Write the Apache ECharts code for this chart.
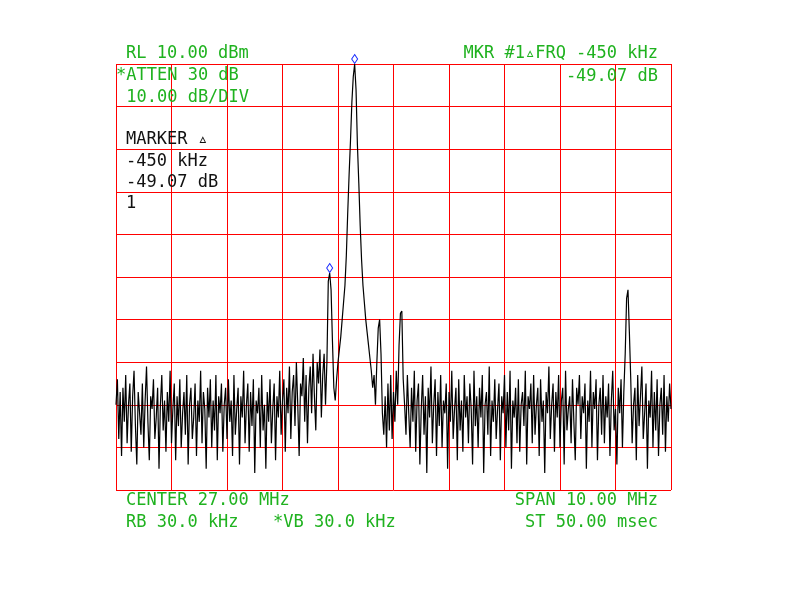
<!DOCTYPE html>
<html>
<head>
<meta charset="utf-8">
<script src="https://cdn.jsdelivr.net/npm/echarts@6/dist/echarts.min.js"></script>
<style>html,body{margin:0;padding:0;background:#fff;}#c{width:800px;height:600px;}</style>
</head>
<body>
<div id="c"></div>
<script>
// Frequency axis: 22–32 MHz (center 27 MHz, span 10 MHz), 401 trace points
const freqStartMHz = 22;
const freqStopMHz = 32;
// Amplitude axis: ref level 10 dBm, 10 dB/div
const ampTop = 10;
const ampBottom = -90;

// Trace values in dBm, in segments
const trace0 = [-70,-64,-78,-67,-82,-66,-74,-63,-79,-70,-65,-81,-68,-62,-75,-84,-67,-72,-77,-65,
-80,-69,-61,-74,-83,-68,-71,-64,-78,-73,-66,-85,-70,-63,-76,-69,-81,-67,-74,-62,
-79,-71,-65,-83,-68,-75,-64,-80,-72,-67,-77,-63,-84,-70,-66,-78,-73,-65,-82,-69,
-74,-62,-79,-67,-71,-85,-66,-73,-64,-80,-69,-76,-63,-83,-68,-72,-65,-81,-70,-66,
-78,-64,-74,-69,-82,-63,-77,-71,-66,-84,-68,-73,-62,-79,-70,-65,-81,-67,-75,-64,
-86,-69,-72,-66,-80,-63,-76,-70,-85,-67,-74,-64,-79,-71,-65,-83,-68,-73,-62,-77,
-69,-64,-81,-66,-72,-61,-78,-67,-63,-75,-60,-70,-82,-65,-68,-59,-74,-63,-79,-66,
-61,-72,-58,-68,-76,-60,-65,-57,-73,-63,-58,-70,-60,-41];
const marker2Value = -39.07;
const peakRise = [-43,-55,-66,-69,-64,-60,-57,-54,-50,-46,-42,-35,-25,-16,-8,1,7];
const peakValue = 10;
const peakFall = [4,-9,-18,-28,-36,-42,-46,-50,-53,-56,-59,-62,-66,-63,-70,-60,-52,-50,-58,-72,-77];
const trace1 = [-68,-80,-65,-76,-63,-78,-67,-74,-62,-70,-56,-48.5,-48,-64,-70,-77,-63,-72,-80,-66,
-74,-62,-81,-69,-65,-84,-71,-63,-77,-68,-86,-66,-73,-61,-79,-70,-64,-82,-67,-75,
-63,-80,-69,-72,-65,-85,-67,-74,-62,-78,-71,-66,-83,-64,-76,-69,-81,-63,-73,-68,
-79,-65,-71,-84,-62,-75,-68,-80,-66,-73,-63,-86,-70,-67,-77,-61,-82,-69,-74,-64,
-78,-71,-65,-83,-68,-72,-63,-80,-67,-76,-62,-85,-69,-73,-66,-79,-64,-81,-70,-67,
-75,-62,-84,-68,-71,-65,-79,-63,-77,-70,-66,-82,-64,-74,-69,-86,-67,-72,-61,-78,
-70,-65,-81,-67,-73,-63,-80,-69,-66,-84,-62,-76,-71,-68,-79,-64,-74,-83,-66,-70,
-63,-78,-68,-72,-65,-85,-69,-74,-62,-80,-67,-71,-64,-83,-70,-66,-77,-63,-79,-68,
-73,-65,-82,-69,-62,-76,-71,-84,-66,-72,-64,-80,-67];
const spur = [-58,-45,-43,-53,-64];
const trace2 = [-79,-70,-66,-83,-63,-75,-68,-61,-78,-72,-65,-85,-69,-73,-62,-80,-67,-76,-64,-82,-70,-66,-77,-63,-81,-68,-74,-65,-71];

// Annotation texts
const topLeftText = ['RL 10.00 dBm', '*ATTEN 30 dB', ' 10.00 dB/DIV'];
const topRightText = ['MKR #1\u25B5FRQ -450 kHz', '-49.07 dB'];
const markerText = ['MARKER \u25B5', '-450 kHz', '-49.07 dB', '1'];
const bottomLeftText = ['CENTER 27.00 MHz', 'RB 30.0 kHz', '*VB 30.0 kHz'];
const bottomRightText = ['SPAN 10.00 MHz', 'ST 50.00 msec'];

const values = [].concat(trace0, [marker2Value], peakRise, [peakValue], peakFall, trace1, spur, trace2);
const step = (freqStopMHz - freqStartMHz) / (values.length - 1);
const data = values.map((v, i) => [freqStartMHz + i * step, v]);
const peakIdx = trace0.length + 1 + peakRise.length;
const mk2Idx = trace0.length;

const green = '#1fb21f';
const font = '17px "DejaVu Sans Mono"';
function txt(s, x, y, align, color) {
  return { type: 'text', x: x, y: y, z: 100,
    style: { text: s, fill: color || green, font: font, align: align || 'left', verticalAlign: 'middle',
      textAlign: align || 'left', textVerticalAlign: 'middle' } };
}

const chart = echarts.init(document.getElementById('c'), null, { renderer: 'canvas' });
chart.setOption({
  animation: false,
  backgroundColor: '#ffffff',
  grid: { left: 116, right: 129, top: 64, bottom: 110 },
  xAxis: { type: 'value', min: freqStartMHz, max: freqStopMHz, interval: 1,
    axisLine: { show: false }, axisTick: { show: false }, axisLabel: { show: false },
    splitLine: { show: true, lineStyle: { color: '#ff0000', width: 1 } } },
  yAxis: { type: 'value', min: ampBottom, max: ampTop, interval: 10,
    axisLine: { show: false }, axisTick: { show: false }, axisLabel: { show: false },
    splitLine: { show: true, lineStyle: { color: '#ff0000', width: 1 } } },
  series: [{
    type: 'line', data: data, symbol: 'none', showSymbol: false, clip: false,
    lineStyle: { color: '#000000', width: 1.2 },
    markPoint: {
      symbol: 'diamond', symbolSize: [6, 9], symbolOffset: [0, -5],
      label: { show: false },
      itemStyle: { color: 'rgba(0,0,0,0)', borderColor: '#1a2cff', borderWidth: 1 },
      data: [ { coord: data[peakIdx] }, { coord: data[mk2Idx] } ]
    }
  }],
  graphic: [
    txt(topLeftText[0], 126, 54),
    txt(topLeftText[1], 116, 76),
    txt(topLeftText[2], 116, 98),
    txt(topRightText[0], 658, 54, 'right'),
    txt(topRightText[1], 658, 77, 'right'),
    txt(markerText[0], 126, 140, 'left', '#111'),
    txt(markerText[1], 126, 162, 'left', '#111'),
    txt(markerText[2], 126, 183, 'left', '#111'),
    txt(markerText[3], 126, 204, 'left', '#111'),
    txt(bottomLeftText[0], 126, 501),
    txt(bottomLeftText[1], 126, 523),
    txt(bottomLeftText[2], 273, 523),
    txt(bottomRightText[0], 658, 501, 'right'),
    txt(bottomRightText[1], 658, 523, 'right')
  ]
});
</script>
</body>
</html>
